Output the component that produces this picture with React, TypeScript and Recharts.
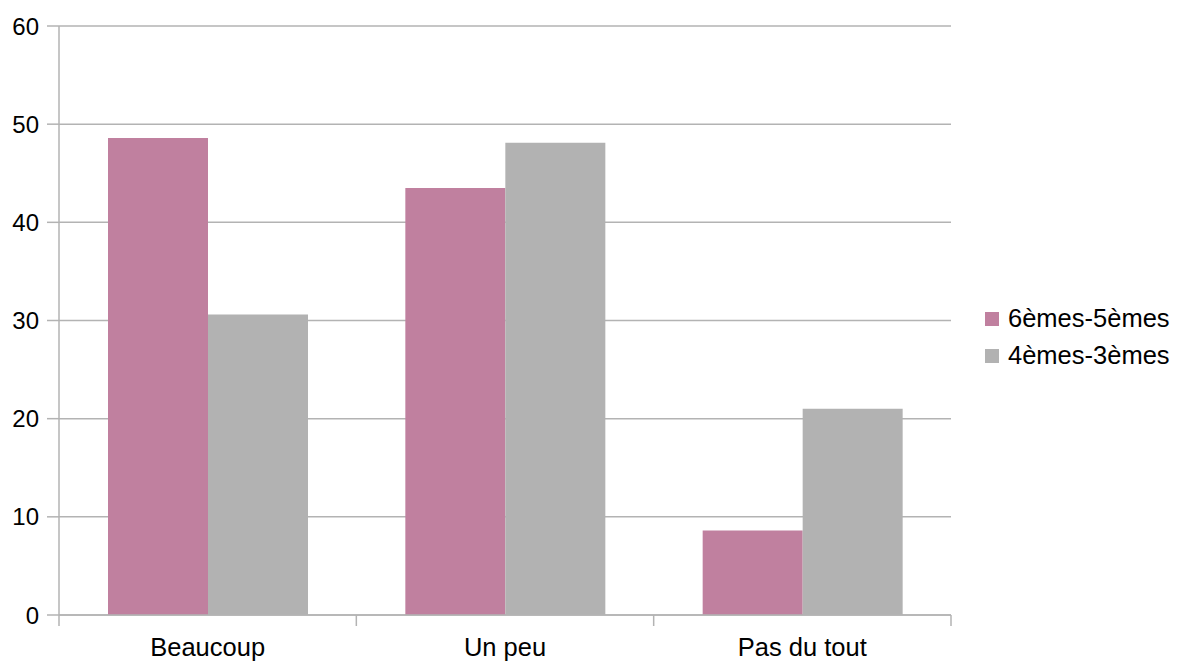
import { Bar, BarChart, CartesianGrid, Legend, XAxis, YAxis } from "recharts";

const categories = ["Beaucoup", "Un peu", "Pas du tout"];
const series6e5e = [48.6, 43.5, 8.6];
const series4e3e = [30.6, 48.1, 21.0];
const seriesNames = ["6èmes-5èmes", "4èmes-3èmes"];
const yTicks = [0, 10, 20, 30, 40, 50, 60];

const WIDTH = 1177;
const HEIGHT = 666;
const MARGIN = { top: 26, right: 226, bottom: 0, left: 0 };
const Y_AXIS_WIDTH = 59;
const X_AXIS_HEIGHT = 51;
const FONT = "'Liberation Sans', Arial, sans-serif";
const GRID = "#b3b3b3";
const PINK = "#c0809f";
const GREY = "#b2b2b2";
const seriesColors = [PINK, GREY];

// largeur d'une catégorie, pour tracer les graduations entre les groupes
const plotWidth = WIDTH - MARGIN.left - MARGIN.right - Y_AXIS_WIDTH;
const band = plotWidth / categories.length;

const data = categories.map((name, i) => ({
  name,
  a: series6e5e[i],
  b: series4e3e[i]
}));

function CategoryTick(props: any) {
  const { x, y, payload, index } = props;
  const axisY = y - 23;
  return (
    <g>
      <line x1={x - band / 2} x2={x - band / 2} y1={axisY} y2={axisY + 11} stroke={GRID} strokeWidth={1.5} />
      {index === categories.length - 1 && (
        <line x1={x + band / 2} x2={x + band / 2} y1={axisY} y2={axisY + 11} stroke={GRID} strokeWidth={1.5} />
      )}
      <text x={x} y={y} dy="0.71em" textAnchor="middle" fill="#000" fontSize={25.5} fontFamily={FONT}>
        {payload.value}
      </text>
    </g>
  );
}

// légende dans l'ordre des séries (Recharts la trie sinon)
function LegendBox() {
  return (
    <div style={{ fontFamily: FONT, fontSize: 25.5, color: "#000" }}>
      {seriesNames.map((name, i) => (
        <div key={name} style={{ display: "flex", alignItems: "center", height: 37 }}>
          <span style={{ width: 14, height: 14, background: seriesColors[i], marginRight: 9, display: "inline-block" }} />
          <span>{name}</span>
        </div>
      ))}
    </div>
  );
}

export default function App() {
  return (
    <div style={{ position: "absolute", left: 0, top: 0, width: WIDTH, height: HEIGHT, background: "#fff" }}>
      <BarChart width={WIDTH} height={HEIGHT} data={data} margin={MARGIN} barGap={0}>
        <CartesianGrid vertical={false} stroke={GRID} strokeWidth={1.5} />
        <XAxis
          dataKey="name"
          height={X_AXIS_HEIGHT}
          tickSize={11}
          tickMargin={12}
          tickLine={false}
          axisLine={{ stroke: GRID, strokeWidth: 1.5 }}
          tick={<CategoryTick />}
          interval={0}
        />
        <YAxis
          width={Y_AXIS_WIDTH}
          domain={[0, 60]}
          ticks={yTicks}
          interval={0}
          tickSize={12}
          tickMargin={8}
          axisLine={{ stroke: GRID, strokeWidth: 1.5 }}
          tickLine={{ stroke: GRID, strokeWidth: 1.5 }}
          tick={{ fill: "#000", fontSize: 24, fontFamily: FONT }}
        />
        <YAxis
          yAxisId="right"
          orientation="right"
          width={0}
          domain={[0, 60]}
          tick={false}
          tickLine={false}
          axisLine={{ stroke: GRID, strokeWidth: 1.5 }}
        />
        <Legend
          layout="horizontal"
          verticalAlign="middle"
          align="center"
          content={<LegendBox />}
          wrapperStyle={{ left: 985, top: 300, width: 192, height: 74 }}
        />
        <Bar dataKey="a" name={seriesNames[0]} fill={PINK} barSize={100} isAnimationActive={false} />
        <Bar dataKey="b" name={seriesNames[1]} fill={GREY} barSize={100} isAnimationActive={false} />
      </BarChart>
    </div>
  );
}
